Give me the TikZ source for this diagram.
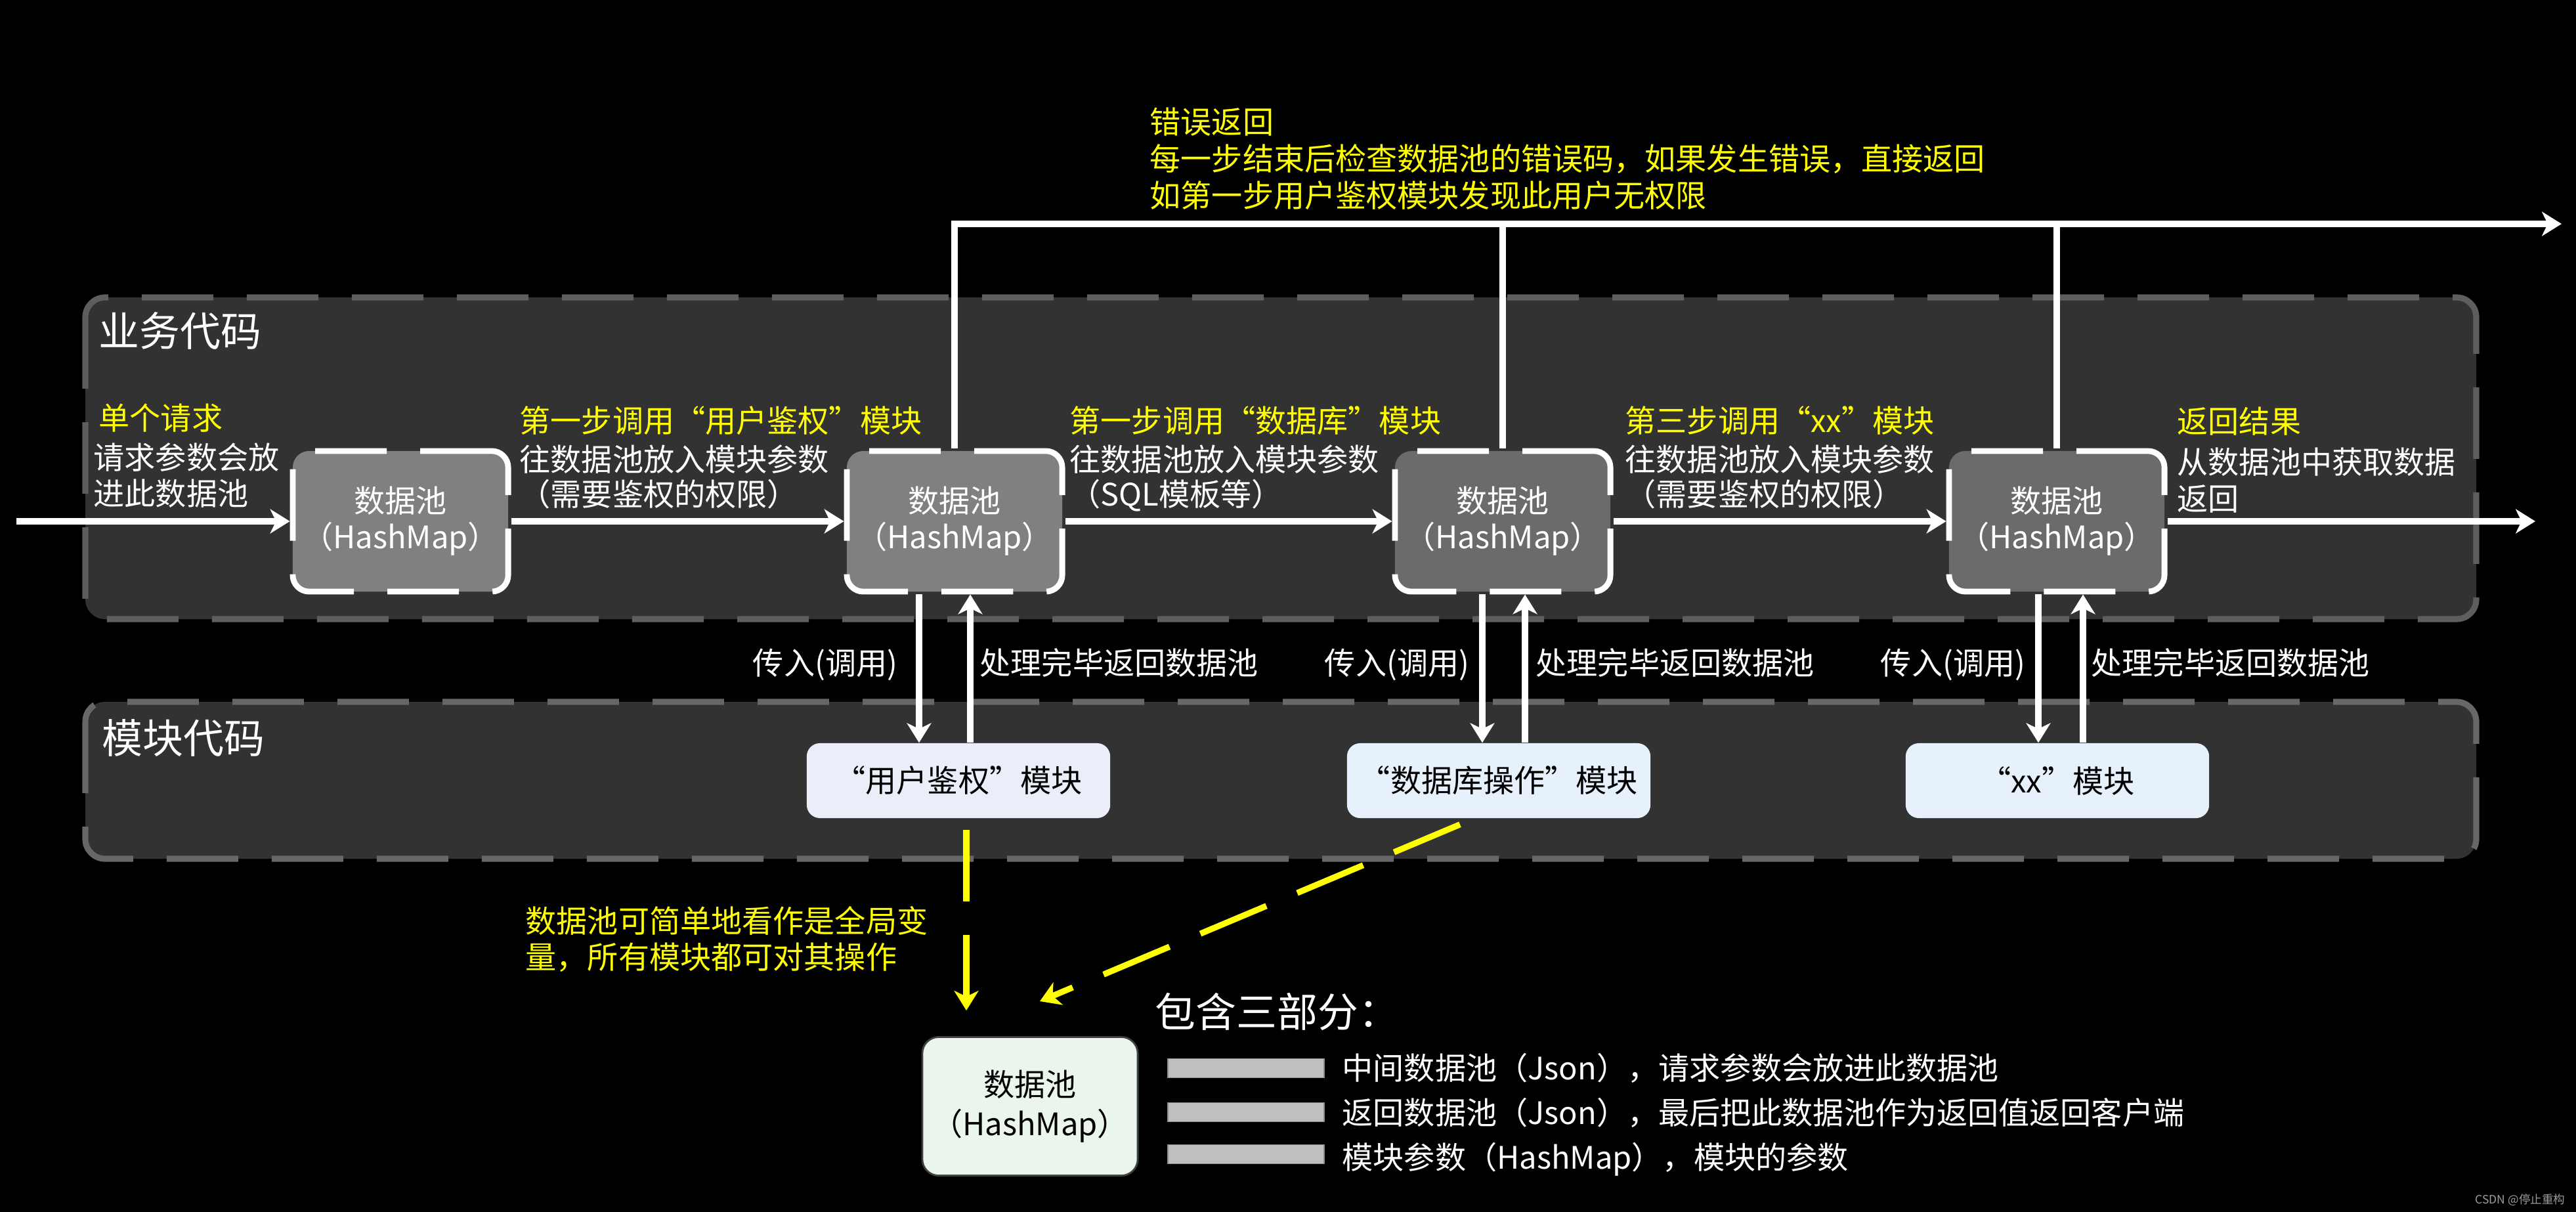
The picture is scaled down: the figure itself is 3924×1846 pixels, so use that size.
\documentclass[tikz,border=0pt]{standalone}
\usepackage{fontspec}
\setmainfont{Noto Sans CJK SC}
\usetikzlibrary{arrows.meta}

\definecolor{panelfill}{HTML}{323232}
\definecolor{panelline}{HTML}{5E5E5E}
\definecolor{panellineB}{HTML}{676767}
\definecolor{poolA}{HTML}{808080}
\definecolor{poolB}{HTML}{6B6B6B}
\definecolor{modA}{HTML}{E9EEF8}
\definecolor{modB}{HTML}{E7F1FB}
\definecolor{storefill}{HTML}{EAF5EB}
\definecolor{bargray}{HTML}{BFBFBF}
\definecolor{markY}{HTML}{FFFF00}
\definecolor{wmgray}{HTML}{9C9C9C}

\newcommand\fsN{\fontsize{13.4pt}{15.6pt}\selectfont}
\newcommand\fsL{\fontsize{17.6pt}{21pt}\selectfont}
\newcommand\fsS{\fontsize{5pt}{6pt}\selectfont}

\begin{document}
\begin{tikzpicture}[x=0.01cm, y=-0.01cm,
  panel/.style={fill=panelfill, draw=panelline, line width=2.6pt,
    dash pattern=on 31pt off 14.5pt, rounded corners=0.3cm},
  pool/.style={rounded corners=0.25cm, draw=white, line width=2.5pt,
    dash pattern=on 31pt off 14.5pt, minimum width=3.28cm, minimum height=2.14cm,
    inner sep=0pt, text=white, align=center, font=\fsN},
  module/.style={rounded corners=0.2cm, minimum width=4.62cm, minimum height=1.14cm,
    inner sep=0pt, font=\fsN, text=black},
  store/.style={rounded corners=0.25cm, draw=black!75, line width=0.8pt, fill=storefill,
    minimum width=3.28cm, minimum height=2.11cm, inner sep=0pt, align=center,
    text=black, font={\fontsize{13.4pt}{17pt}\selectfont}},
  bar/.style={fill=bargray, draw=black!45, line width=0.5pt, minimum width=2.38cm,
    minimum height=0.29cm, inner sep=0pt},
  flow/.style={draw=white, line width=2.6pt, -{Stealth[length=8.5pt,width=10.5pt,inset=2.5pt]}},
  link/.style={draw=white, line width=2.6pt},
  hint/.style={draw=markY, line width=2.6pt, dash pattern=on 31pt off 14.5pt,
    -{Stealth[length=8.5pt,width=10.5pt,inset=2.5pt]}},
  lbl/.style={inner sep=0pt, font=\fsN, text=white, text height=11.4pt, text depth=1.5pt, anchor=west},
  note/.style={lbl, text=markY},
  title/.style={inner sep=0pt, font=\fsL, text=white, anchor=west}]

\fill[black] (0,0) rectangle (3924,1846);
\useasboundingbox (0,0) rectangle (3924,1846);

% lanes
\draw[panel] (130,453) rectangle (3772,943);
\draw[panel, draw=panellineB] (130,1069) rectangle (3772,1308);
\node[title] (biz) at (150,504) {业务代码};
\node[title] (modlane) at (155,1124) {模块代码};

% data pools along the request
\node[pool, fill=poolA] (p1) at (610,794) {数据池\\（HashMap）};
\node[pool, fill=poolA] (p2) at (1454,794) {数据池\\（HashMap）};
\node[pool, fill=poolB] (p3) at (2289,794) {数据池\\（HashMap）};
\node[pool, fill=poolB] (p4) at (3133,794) {数据池\\（HashMap）};

% modules
\node[module, fill=modA] (m1) at (1460,1189) {“用户鉴权”模块};
\node[module, fill=modB] (m2) at (2283,1189) {“数据库操作”模块};
\node[module, fill=modB] (m3) at (3134,1189) {“xx”模块};

% shared data pool
\node[store] (dp) at (1569,1685) {数据池\\（HashMap）};

% request flow
\coordinate (in0) at (25,794);
\coordinate (out0) at (3862,794);
\draw[flow] (in0) -- (p1.west);
\draw[flow] (p1.east) -- (p2.west);
\draw[flow] (p2.east) -- (p3.west);
\draw[flow] (p3.east) -- (p4.west);
\draw[flow] (p4.east) -- (out0);

% early error return
\coordinate (errEnd) at (3902,341);
\draw[flow] (p2.north) |- (errEnd);
\draw[link] (p3.north) -- (p3.north |- errEnd);
\draw[link] (p4.north) -- (p4.north |- errEnd);

% module calls
\draw[flow] ([xshift=-0.54cm]p2.south) -- ([xshift=-0.54cm]p2.south |- m1.north);
\draw[flow] ([xshift=0.24cm]p2.south |- m1.north) -- ([xshift=0.24cm]p2.south);
\draw[flow] ([xshift=-0.31cm]p3.south) -- ([xshift=-0.31cm]p3.south |- m2.north);
\draw[flow] ([xshift=0.34cm]p3.south |- m2.north) -- ([xshift=0.34cm]p3.south);
\draw[flow] ([xshift=-0.28cm]p4.south) -- ([xshift=-0.28cm]p4.south |- m3.north);
\draw[flow] ([xshift=0.40cm]p4.south |- m3.north) -- ([xshift=0.40cm]p4.south);

\node[lbl, anchor=east] (c1) at (1368,1010) {传入(调用)};
\node[lbl] (r1) at (1492,1010) {处理完毕返回数据池};
\node[lbl, anchor=east] (c2) at (2239,1010) {传入(调用)};
\node[lbl] (r2) at (2339,1010) {处理完毕返回数据池};
\node[lbl, anchor=east] (c3) at (3086,1010) {传入(调用)};
\node[lbl] (r3) at (3185,1010) {处理完毕返回数据池};

% step texts
\node[note] (s0a) at (150,637) {单个请求};
\node[lbl] (s0b) at (142,697) {请求参数会放};
\node[lbl] (s0c) at (142,752) {进此数据池};

\node[note] (s1a) at (791,641) {第一步调用“用户鉴权”模块};
\node[lbl] (s1b) at (791,700) {往数据池放入模块参数};
\node[lbl] (s1c) at (791,753) {（需要鉴权的权限）};

\node[note] (s2a) at (1629,641) {第一步调用“数据库”模块};
\node[lbl] (s2b) at (1629,700) {往数据池放入模块参数};
\node[lbl] (s2c) at (1629,753) {（SQL模板等）};

\node[note] (s3a) at (2475,641) {第三步调用“xx”模块};
\node[lbl] (s3b) at (2475,700) {往数据池放入模块参数};
\node[lbl] (s3c) at (2475,753) {（需要鉴权的权限）};

\node[note] (s4a) at (3316,642) {返回结果};
\node[lbl] (s4b) at (3316,704) {从数据池中获取数据};
\node[lbl] (s4c) at (3316,760) {返回};

% error text
\node[note] (e1) at (1751,186) {错误返回};
\node[note] (e2) at (1751,242) {每一步结束后检查数据池的错误码，如果发生错误，直接返回};
\node[note] (e3) at (1751,298) {如第一步用户鉴权模块发现此用户无权限};

% shared pool hints
\draw[hint] ([xshift=0.12cm,yshift=-0.17cm]m1.south) -- ([xshift=0.12cm,yshift=0.39cm]m1.south |- dp.north);
\draw[hint] ([xshift=-0.59cm,yshift=-0.09cm]m2.south) -- ([xshift=0.15cm,yshift=0.53cm]dp.north);
\node[note] (n1) at (800,1403) {数据池可简单地看作是全局变};
\node[note] (n2) at (800,1458) {量，所有模块都可对其操作};

% legend
\node[title] (parts) at (1759,1541) {包含三部分：};
\node[bar] (b1) at (1898,1627) {};
\node[bar] (b2) at (1898,1694) {};
\node[bar] (b3) at (1898,1758) {};
\node[lbl] (t1) at (2044,1627) {中间数据池（Json），请求参数会放进此数据池};
\node[lbl] (t2) at (2044,1695) {返回数据池（Json），最后把此数据池作为返回值返回客户端};
\node[lbl] (t3) at (2044,1763) {模块参数（HashMap），模块的参数};

\node[inner sep=0pt, anchor=east, text=wmgray, font=\fsS] (wm) at (3908,1828) {CSDN @停止重构};
\end{tikzpicture}
\end{document}
